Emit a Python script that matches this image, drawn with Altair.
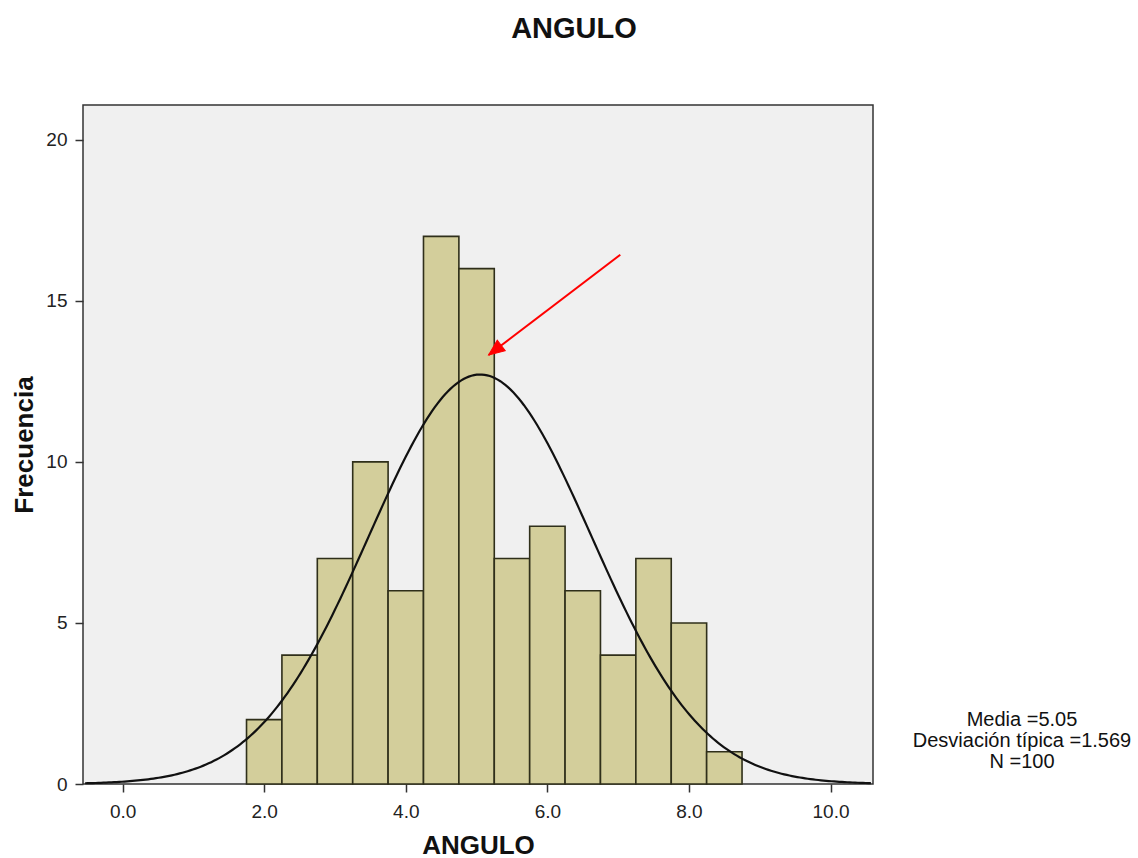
import altair as alt
import numpy as np
import pandas as pd

# Histogram of ANGULO (bin width 0.5)
bin_centers = [2.0, 2.5, 3.0, 3.5, 4.0, 4.5, 5.0, 5.5, 6.0, 6.5, 7.0, 7.5, 8.0, 8.5]
frequencies = [2, 4, 7, 10, 6, 17, 16, 7, 8, 6, 4, 7, 5, 1]
bin_width = 0.5

# Summary statistics
mean = 5.05
std_dev = 1.569
n_obs = 100
stats_lines = ["Media =5.05", "Desviación típica =1.569", "N =100"]

# Arrow annotation (tail -> head, data units)
arrow_tail = (7.03, 16.43)
arrow_head = (5.17, 13.32)

x_ticks = [0, 2, 4, 6, 8, 10]
y_ticks = [0, 5, 10, 15, 20]
x_domain = [-0.56, 10.6]
y_domain = [0, 21.08]

FONT = "Liberation Sans"

bars = pd.DataFrame({
    "start": [c - bin_width / 2 for c in bin_centers],
    "end": [c + bin_width / 2 for c in bin_centers],
    "count": frequencies,
})

# Normal curve scaled to the histogram counts
xs = np.linspace(x_domain[0] + 0.03, x_domain[1] - 0.03, 300)
ys = n_obs * bin_width / (std_dev * np.sqrt(2 * np.pi)) * np.exp(-0.5 * ((xs - mean) / std_dev) ** 2)
curve = pd.DataFrame({"x": xs, "y": ys})

x_scale = alt.Scale(domain=x_domain, nice=False, zero=False)
y_scale = alt.Scale(domain=y_domain, nice=False)

x_axis = alt.Axis(
    values=x_ticks, format=".1f", title="ANGULO", grid=False, domain=False,
    tickSize=8, tickColor="#333333", tickWidth=1.5,
    labelFont=FONT, labelFontSize=19, labelColor="#222222", labelPadding=10,
    titleFont=FONT, titleFontSize=26, titleFontWeight="bold", titleColor="#111111",
    titleY=69, titleBaseline="alphabetic",
)
y_axis = alt.Axis(
    values=y_ticks, title="Frecuencia", grid=False, domain=False,
    tickSize=8, tickColor="#333333", tickWidth=1.5,
    labelFont=FONT, labelFontSize=19, labelColor="#222222", labelPadding=8,
    titleFont=FONT, titleFontSize=26, titleFontWeight="bold", titleColor="#111111",
    titleX=-51, titleY=339.5, titleAngle=-90, titleBaseline="alphabetic",
)

hist = alt.Chart(bars).mark_rect(
    fill="#D3CE9B", stroke="#2f2f1a", strokeWidth=1.6
).encode(
    x=alt.X("start:Q", scale=x_scale, axis=x_axis),
    x2="end:Q",
    y=alt.Y("count:Q", scale=y_scale, axis=y_axis),
    y2=alt.datum(0),
)

normal = alt.Chart(curve).mark_line(color="#111111", strokeWidth=2.2).encode(
    x=alt.X("x:Q", scale=x_scale),
    y=alt.Y("y:Q", scale=y_scale),
)

arrow_df = pd.DataFrame({
    "x": [arrow_tail[0]], "y": [arrow_tail[1]],
    "x2": [arrow_head[0]], "y2": [arrow_head[1]],
})
arrow_line = alt.Chart(arrow_df).mark_rule(color="#FF0000", strokeWidth=2).encode(
    x=alt.X("x:Q", scale=x_scale), y=alt.Y("y:Q", scale=y_scale),
    x2="x2:Q", y2="y2:Q",
)
arrow_tip = alt.Chart(arrow_df).mark_point(
    shape="M0,0 L-0.42,1 L0.42,1 Z", filled=True, fill="#FF0000", stroke="#FF0000",
    strokeWidth=1, size=1000, angle=233, opacity=1,
).encode(
    x=alt.X("x2:Q", scale=x_scale), y=alt.Y("y2:Q", scale=y_scale),
)

# Statistics box to the right of the plot
stats_df = pd.DataFrame({"text": ["\n".join(stats_lines)]})
stats = alt.Chart(stats_df).mark_text(
    font=FONT, fontSize=20, color="#111111", align="center", baseline="middle",
    lineBreak="\n", lineHeight=21,
).encode(
    text="text:N",
    x=alt.value(939),
    y=alt.value(615),
)

# Chart title
title_df = pd.DataFrame({"text": ["ANGULO"]})
title = alt.Chart(title_df).mark_text(
    font=FONT, fontSize=29, fontWeight="bold", color="#111111",
    align="center", baseline="alphabetic",
).encode(
    text="text:N",
    x=alt.value(491),
    y=alt.value(-67),
)

chart = alt.layer(hist, normal, arrow_line, arrow_tip, stats, title).properties(
    width=790,
    height=679,
    padding={"left": 83, "top": 105, "right": 265, "bottom": 74},
    autosize=alt.AutoSizeParams(type="none"),
    background="white",
).configure_view(
    fill="#F0F0F0", stroke="#333333", strokeWidth=1.5
)

chart.save("out.html", embed_options={"renderer": "svg", "actions": False})
